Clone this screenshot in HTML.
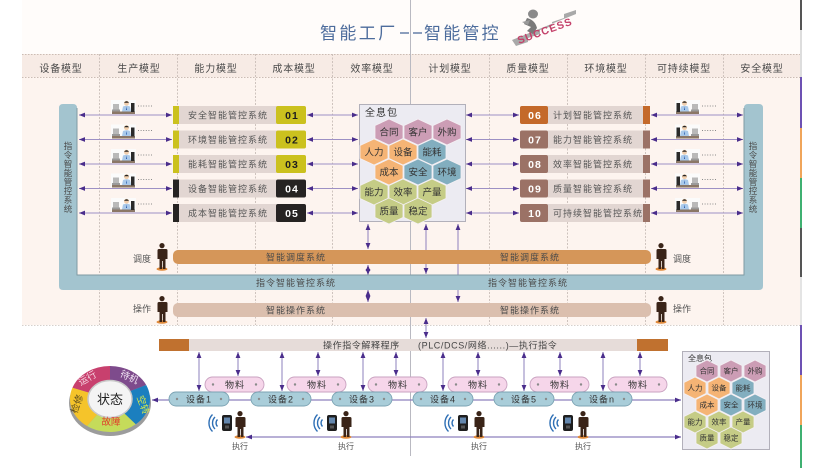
<!DOCTYPE html>
<html><head><meta charset="utf-8"><style>
html,body{margin:0;padding:0;background:#fff;}
svg{display:block;}
text{font-family:"Liberation Sans","Noto Sans CJK SC",sans-serif;}
</style></head><body>
<svg width="836" height="468" viewBox="0 0 836 468" xmlns="http://www.w3.org/2000/svg">
<defs>
 <marker id="ah" viewBox="0 0 10 8" refX="10" refY="4" markerWidth="6" markerHeight="5" orient="auto-start-reverse" markerUnits="userSpaceOnUse"><path d="M0,0L10,4L0,8z" fill="#4a2d8c"/></marker>
 <g id="wk">
  <rect x="0" y="0" width="25" height="14" fill="#fbfbfb"/>
  <rect x="1" y="11.5" width="23" height="2.5" fill="#8b7766"/>
  <rect x="2" y="4" width="6" height="6" fill="#b9b9b9"/>
  <rect x="1" y="9.5" width="8" height="2" fill="#9a9a9a"/>
  <rect x="20" y="3" width="3.5" height="9" fill="#2a2a2a"/>
  <circle cx="15.5" cy="3.2" r="2.5" fill="#f1cfae"/>
  <path d="M13,2.8 q2.5,-3.2 5,0 z" fill="#222"/>
  <path d="M11,11.5 L12,6.5 Q15.5,5 19,6.5 L20,11.5 Z" fill="#a9c9ea"/>
  <path d="M15.5,6.5 L15,10 L16,10 Z" fill="#2456a8"/>
 </g>
 <g id="man">
  <ellipse cx="6" cy="26" rx="5.5" ry="1.8" fill="#e08a3a"/>
  <circle cx="6" cy="2.6" r="2.6" fill="#3a2418"/>
  <path d="M2,6 h8 q1.5,0 1.5,1.5 v8.5 h-2 v10 h-2.6 v-8 h-0.8 v8 h-2.6 v-10 h-2 v-8.5 q0,-1.5 1.5,-1.5z" fill="#3a2418"/>
 </g>
 <g id="ph"><rect x="0" y="0" width="10" height="16" rx="2" fill="#1e1e1e"/><rect x="2" y="2.5" width="6" height="6" fill="#6487ad"/><rect x="3" y="10.5" width="4" height="3" fill="#555"/></g>
 <g id="wf" fill="none" stroke="#2e6fb5" stroke-width="1.4">
  <path d="M-3.5,-3.5 A5,5 0 0,0 -3.5,3.5"/>
  <path d="M-6,-6 A8.5,8.5 0 0,0 -6,6"/>
  <path d="M-8.5,-8.5 A12,12 0 0,0 -8.5,8.5"/>
 </g>
 <polygon id="hb" points="0,-13 14,-6.5 14,6.5 0,13 -14,6.5 -14,-6.5" stroke="#f4f0f4" stroke-width="0.8"/>
 <polygon id="hs" points="0,-11 11,-5.5 11,5.5 0,11 -11,5.5 -11,-5.5" stroke="#f4f0f4" stroke-width="0.8"/>
</defs>

<!-- backgrounds -->
<rect x="0" y="0" width="836" height="468" fill="#fff"/>
<rect x="22" y="0" width="778" height="54" fill="#fffcfa"/>
<rect x="22" y="54" width="778" height="23" fill="#f7ebe5"/>
<rect x="22" y="77" width="778" height="248" fill="#fdf4ef"/>
<line x1="22" y1="54.5" x2="800" y2="54.5" stroke="#cbbcb4" stroke-dasharray="1.5,1.5"/>
<line x1="22" y1="77.5" x2="800" y2="77.5" stroke="#cbbcb4" stroke-dasharray="1.5,1.5"/>
<line x1="22" y1="325.5" x2="800" y2="325.5" stroke="#d6d0cc" stroke-dasharray="1.5,1.5"/>
<g stroke="#c9beb8" stroke-dasharray="2,1.5" stroke-width="0.9">
 <line x1="99.5" y1="54" x2="99.5" y2="325"/>
 <line x1="177.5" y1="54" x2="177.5" y2="325"/>
 <line x1="255.5" y1="54" x2="255.5" y2="325"/>
 <line x1="332.5" y1="54" x2="332.5" y2="325"/>
 <line x1="489.5" y1="54" x2="489.5" y2="325"/>
 <line x1="567.5" y1="54" x2="567.5" y2="325"/>
 <line x1="645.5" y1="54" x2="645.5" y2="325"/>
 <line x1="723.5" y1="54" x2="723.5" y2="325"/>
</g>
<line x1="410.5" y1="0" x2="410.5" y2="456" stroke="#b9b9c1" stroke-width="1"/>
<!-- right color strip -->
<g stroke-width="2">
 <line x1="801" y1="0" x2="801" y2="30" stroke="#555"/>
 <line x1="801" y1="30" x2="801" y2="77" stroke="#ddd"/>
 <line x1="801" y1="77" x2="801" y2="128" stroke="#6d51b3"/>
 <line x1="801" y1="128" x2="801" y2="178" stroke="#f0a55a"/>
 <line x1="801" y1="178" x2="801" y2="228" stroke="#3fb071"/>
 <line x1="801" y1="228" x2="801" y2="277" stroke="#555"/>
 <line x1="801" y1="277" x2="801" y2="325" stroke="#e4e4e4"/>
 <line x1="801" y1="325" x2="801" y2="375" stroke="#6d51b3"/>
 <line x1="801" y1="375" x2="801" y2="425" stroke="#f0a55a"/>
 <line x1="801" y1="425" x2="801" y2="468" stroke="#3fb071"/>
</g>

<!-- title -->
<text x="320" y="39" font-size="17" fill="#4d6c9c" letter-spacing="2.4">智能工厂</text>
<line x1="400" y1="33" x2="409" y2="33" stroke="#4d6c9c" stroke-width="1.3"/>
<line x1="413" y1="33" x2="422" y2="33" stroke="#4d6c9c" stroke-width="1.3"/>
<text x="424" y="39" font-size="17" fill="#4d6c9c" letter-spacing="2.2">智能管控</text>
<!-- logo -->
<g>
 <path d="M516,46 l12,-4 0,-4 12,-4 0,-4 12,-4 0,-4 12,-4 0,-4 12,-4 0,4 -64,26z" fill="#a9a9a9"/>
 <ellipse cx="533" cy="14" rx="5" ry="4.5" fill="#8a8a8a"/>
 <path d="M527,18 q8,2 10,10 l-4,6 -6,-3 4,-4 -7,-3z" fill="#7a7a7a"/>
 <path d="M522,22 l8,-2 -2,5z" fill="#9a9a9a"/>
 <text x="519" y="44" transform="rotate(-20 519 44)" font-size="10.5" font-weight="bold" fill="#c4416a" letter-spacing="1">SUCCESS</text>
</g>

<!-- header labels -->
<g font-size="10" fill="#4a4a4a" text-anchor="middle" letter-spacing="0.8">
 <text x="61" y="72">设备模型</text>
 <text x="139" y="72">生产模型</text>
 <text x="216" y="72">能力模型</text>
 <text x="294" y="72">成本模型</text>
 <text x="372" y="72">效率模型</text>
 <text x="450" y="72">计划模型</text>
 <text x="528" y="72">质量模型</text>
 <text x="606" y="72">环境模型</text>
 <text x="684" y="72">可持续模型</text>
 <text x="762" y="72">安全模型</text>
</g>

<!-- vertical arrows behind bars -->
<g stroke="#8e80bd" stroke-width="1" marker-start="url(#ah)" marker-end="url(#ah)">
 <line x1="426" y1="224" x2="426" y2="274"/>
 <line x1="458" y1="224" x2="458" y2="302"/>
 <line x1="368" y1="224" x2="368" y2="249"/>
 <line x1="368" y1="265" x2="368" y2="275"/>
 <line x1="368" y1="290" x2="368" y2="302"/>
 <line x1="426" y1="318" x2="426" y2="338"/>
</g>

<!-- U bar -->
<path d="M63,104 L73,104 Q77,104 77,108 L77,275 L744,275 L744,108 Q744,104 748,104 L759,104 Q763,104 763,108 L763,286 Q763,290 759,290 L63,290 Q59,290 59,286 L59,108 Q59,104 63,104 Z" fill="#a3c4cf"/>
<polyline points="77,108 77,275 744,275 744,108" fill="none" stroke="#7f9aa3" stroke-width="1"/>
<g font-size="8.5" fill="#4a4a4a" text-anchor="middle">
 <text x="68" y="149">指</text><text x="68" y="158">令</text><text x="68" y="167">智</text><text x="68" y="176">能</text><text x="68" y="185">管</text><text x="68" y="194">控</text><text x="68" y="203">系</text><text x="68" y="212">统</text>
 <text x="753" y="149">指</text><text x="753" y="158">令</text><text x="753" y="167">智</text><text x="753" y="176">能</text><text x="753" y="185">管</text><text x="753" y="194">控</text><text x="753" y="203">系</text><text x="753" y="212">统</text>
</g>
<g font-size="9" fill="#4a4a4a" text-anchor="middle" letter-spacing="1">
 <text x="296" y="286">指令智能管控系统</text>
 <text x="528" y="286">指令智能管控系统</text>
</g>

<!-- row arrows -->
<g stroke="#9d90c4" stroke-width="1" marker-start="url(#ah)" marker-end="url(#ah)">
 <line x1="79" y1="115" x2="172" y2="115"/><line x1="307" y1="115" x2="358" y2="115"/><line x1="466" y1="115" x2="519" y2="115"/><line x1="651" y1="115" x2="743" y2="115"/>
 <line x1="79" y1="139.5" x2="172" y2="139.5"/><line x1="307" y1="139.5" x2="358" y2="139.5"/><line x1="466" y1="139.5" x2="519" y2="139.5"/><line x1="651" y1="139.5" x2="743" y2="139.5"/>
 <line x1="79" y1="164" x2="172" y2="164"/><line x1="307" y1="164" x2="358" y2="164"/><line x1="466" y1="164" x2="519" y2="164"/><line x1="651" y1="164" x2="743" y2="164"/>
 <line x1="79" y1="188.5" x2="172" y2="188.5"/><line x1="307" y1="188.5" x2="358" y2="188.5"/><line x1="466" y1="188.5" x2="519" y2="188.5"/><line x1="651" y1="188.5" x2="743" y2="188.5"/>
 <line x1="79" y1="213" x2="172" y2="213"/><line x1="307" y1="213" x2="358" y2="213"/><line x1="466" y1="213" x2="519" y2="213"/><line x1="651" y1="213" x2="743" y2="213"/>
</g>

<!-- worker icons -->
<use href="#wk" x="111" y="100"/><use href="#wk" x="111" y="124.5"/><use href="#wk" x="111" y="149"/><use href="#wk" x="111" y="173.5"/><use href="#wk" x="111" y="198"/>
<g transform="translate(700,0) scale(-1,1)">
 <use href="#wk" x="0" y="100"/><use href="#wk" x="0" y="124.5"/><use href="#wk" x="0" y="149"/><use href="#wk" x="0" y="173.5"/><use href="#wk" x="0" y="198"/>
</g>
<g stroke="#8a8a8a" stroke-dasharray="1,1.6" stroke-width="1">
 <line x1="138" y1="106" x2="153" y2="106"/><line x1="138" y1="130.5" x2="153" y2="130.5"/><line x1="138" y1="155" x2="153" y2="155"/><line x1="138" y1="179.5" x2="153" y2="179.5"/><line x1="138" y1="204" x2="153" y2="204"/>
 <line x1="702" y1="106" x2="717" y2="106"/><line x1="702" y1="130.5" x2="717" y2="130.5"/><line x1="702" y1="155" x2="717" y2="155"/><line x1="702" y1="179.5" x2="717" y2="179.5"/><line x1="702" y1="204" x2="717" y2="204"/>
</g>

<!-- left system boxes -->
<g>
 <rect x="173" y="106" width="133" height="18" rx="2" fill="#e2d6d2"/><rect x="173" y="106" width="6" height="18" fill="#cbc11e"/><rect x="276" y="106" width="30" height="18" rx="2" fill="#cbc11e"/>
 <rect x="173" y="130.5" width="133" height="18" rx="2" fill="#e2d6d2"/><rect x="173" y="130.5" width="6" height="18" fill="#cbc11e"/><rect x="276" y="130.5" width="30" height="18" rx="2" fill="#cbc11e"/>
 <rect x="173" y="155" width="133" height="18" rx="2" fill="#e2d6d2"/><rect x="173" y="155" width="6" height="18" fill="#cbc11e"/><rect x="276" y="155" width="30" height="18" rx="2" fill="#cbc11e"/>
 <rect x="173" y="179.5" width="133" height="18" rx="2" fill="#e2d6d2"/><rect x="173" y="179.5" width="6" height="18" fill="#262322"/><rect x="276" y="179.5" width="30" height="18" rx="2" fill="#262322"/>
 <rect x="173" y="204" width="133" height="18" rx="2" fill="#e2d6d2"/><rect x="173" y="204" width="6" height="18" fill="#262322"/><rect x="276" y="204" width="30" height="18" rx="2" fill="#262322"/>
</g>
<g font-size="9" fill="#555" text-anchor="middle" letter-spacing="1">
 <text x="228" y="118.5">安全智能管控系统</text>
 <text x="228" y="143">环境智能管控系统</text>
 <text x="228" y="167.5">能耗智能管控系统</text>
 <text x="228" y="192">设备智能管控系统</text>
 <text x="228" y="216.5">成本智能管控系统</text>
</g>
<g font-size="10.5" font-weight="bold" text-anchor="middle" letter-spacing="1">
 <text x="292" y="119" fill="#1e1e1e">01</text>
 <text x="292" y="143.5" fill="#1e1e1e">02</text>
 <text x="292" y="168" fill="#1e1e1e">03</text>
 <text x="292" y="192.5" fill="#fff">04</text>
 <text x="292" y="217" fill="#fff">05</text>
</g>

<!-- right system boxes -->
<g>
 <rect x="520" y="106" width="130" height="18" rx="2" fill="#e2d6d2"/><rect x="520" y="106" width="28" height="18" rx="2" fill="#c4692a"/><rect x="643" y="106" width="7" height="18" fill="#c4692a"/>
 <rect x="520" y="130.5" width="130" height="18" rx="2" fill="#e2d6d2"/><rect x="520" y="130.5" width="28" height="18" rx="2" fill="#9b7266"/><rect x="643" y="130.5" width="7" height="18" fill="#9b7266"/>
 <rect x="520" y="155" width="130" height="18" rx="2" fill="#e2d6d2"/><rect x="520" y="155" width="28" height="18" rx="2" fill="#9b7266"/><rect x="643" y="155" width="7" height="18" fill="#9b7266"/>
 <rect x="520" y="179.5" width="130" height="18" rx="2" fill="#e2d6d2"/><rect x="520" y="179.5" width="28" height="18" rx="2" fill="#9b7266"/><rect x="643" y="179.5" width="7" height="18" fill="#9b7266"/>
 <rect x="520" y="204" width="130" height="18" rx="2" fill="#e2d6d2"/><rect x="520" y="204" width="28" height="18" rx="2" fill="#9b7266"/><rect x="643" y="204" width="7" height="18" fill="#9b7266"/>
</g>
<g font-size="10.5" font-weight="bold" fill="#fff" text-anchor="middle" letter-spacing="1">
 <text x="535" y="119">06</text><text x="535" y="143.5">07</text><text x="535" y="168">08</text><text x="535" y="192.5">09</text><text x="535" y="217">10</text>
</g>
<g font-size="9" fill="#555" letter-spacing="1">
 <text x="553" y="118.5">计划智能管控系统</text>
 <text x="553" y="143">能力智能管控系统</text>
 <text x="553" y="167.5">效率智能管控系统</text>
 <text x="553" y="192">质量智能管控系统</text>
 <text x="553" y="216.5">可持续智能管控系统</text>
</g>

<!-- 全息包 big -->
<rect x="359.5" y="104.5" width="106" height="117" fill="#ecebf2" stroke="#b2b0ba"/>
<text x="365" y="116" font-size="10" fill="#333" letter-spacing="1">全息包</text>
<g>
 <use href="#hb" x="389" y="132" fill="#cc9db5"/><use href="#hb" x="418" y="132" fill="#cc9db5"/><use href="#hb" x="447" y="132" fill="#cc9db5"/>
 <use href="#hb" x="374" y="152" fill="#f5b475"/><use href="#hb" x="403" y="152" fill="#f5b475"/><use href="#hb" x="432" y="152" fill="#82aebf"/>
 <use href="#hb" x="389" y="172" fill="#f5b475"/><use href="#hb" x="418" y="172" fill="#82aebf"/><use href="#hb" x="447" y="172" fill="#82aebf"/>
 <use href="#hb" x="374" y="192" fill="#c5cc86"/><use href="#hb" x="403" y="192" fill="#c5cc86"/><use href="#hb" x="432" y="192" fill="#c5cc86"/>
 <use href="#hb" x="389" y="211" fill="#c5cc86"/><use href="#hb" x="418" y="211" fill="#c5cc86"/>
</g>
<g font-size="9.5" fill="#333" text-anchor="middle">
 <text x="389" y="135.5">合同</text><text x="418" y="135.5">客户</text><text x="447" y="135.5">外购</text>
 <text x="374" y="155.5">人力</text><text x="403" y="155.5">设备</text><text x="432" y="155.5">能耗</text>
 <text x="389" y="175.5">成本</text><text x="418" y="175.5">安全</text><text x="447" y="175.5">环境</text>
 <text x="374" y="195.5">能力</text><text x="403" y="195.5">效率</text><text x="432" y="195.5">产量</text>
 <text x="389" y="214.5">质量</text><text x="418" y="214.5">稳定</text>
</g>

<!-- dispatch / operation bars -->
<rect x="173" y="250" width="478" height="14" rx="5" fill="#d59659"/>
<rect x="173" y="303" width="478" height="14" rx="5" fill="#dbbfae"/>
<g font-size="9" fill="#4a4a4a" text-anchor="middle" letter-spacing="1">
 <text x="296" y="260.5">智能调度系统</text><text x="530" y="260.5">智能调度系统</text>
 <text x="296" y="313.5">智能操作系统</text><text x="530" y="313.5">智能操作系统</text>
</g>
<use href="#man" x="156" y="243"/><use href="#man" x="156" y="296"/>
<use href="#man" x="655" y="243"/><use href="#man" x="655" y="296"/>
<g font-size="9" fill="#555">
 <text x="133" y="262">调度</text><text x="133" y="312">操作</text>
 <text x="673" y="262">调度</text><text x="673" y="312">操作</text>
</g>

<!-- bottom: op instruction bar -->
<rect x="159" y="339" width="509" height="12" fill="#e6dcd9"/>
<rect x="159" y="339" width="30" height="12" fill="#c0712f"/>
<rect x="637" y="339" width="31" height="12" fill="#c0712f"/>
<g font-size="9" fill="#444" letter-spacing="0.6">
 <text x="323" y="348.5">操作指令解释程序</text>
 <text x="418" y="348.5">(PLC/DCS/网络......)—执行指令</text>
</g>

<!-- bottom arrows -->
<g stroke="#8e80bd" stroke-width="1" marker-start="url(#ah)" marker-end="url(#ah)">
 <line x1="199" y1="352" x2="199" y2="391"/><line x1="282" y1="352" x2="282" y2="391"/><line x1="363" y1="352" x2="363" y2="391"/><line x1="443" y1="352" x2="443" y2="391"/><line x1="524" y1="352" x2="524" y2="391"/><line x1="603" y1="352" x2="603" y2="391"/>
 <line x1="238" y1="352" x2="238" y2="376"/><line x1="318" y1="352" x2="318" y2="376"/><line x1="396" y1="352" x2="396" y2="376"/><line x1="478" y1="352" x2="478" y2="376"/><line x1="560" y1="352" x2="560" y2="376"/><line x1="640" y1="352" x2="640" y2="376"/>
</g>
<g stroke="#8e80bd" stroke-width="1.2" marker-start="url(#ah)" marker-end="url(#ah)">
 <line x1="152" y1="400" x2="681" y2="400"/>
 <line x1="246" y1="437" x2="681" y2="437"/>
</g>

<!-- 物料 pills -->
<g fill="#f6d6ea" stroke="#c9a2c0" stroke-width="0.9">
 <rect x="205" y="377" width="59" height="15" rx="7.5"/><rect x="287" y="377" width="59" height="15" rx="7.5"/><rect x="368" y="377" width="59" height="15" rx="7.5"/>
 <rect x="448" y="377" width="59" height="15" rx="7.5"/><rect x="530" y="377" width="59" height="15" rx="7.5"/><rect x="608" y="377" width="59" height="15" rx="7.5"/>
</g>
<g fill="#a9cdd9" stroke="#7ba3b3" stroke-width="0.9">
 <rect x="169" y="392" width="60" height="14" rx="7"/><rect x="251" y="392" width="60" height="14" rx="7"/><rect x="332" y="392" width="60" height="14" rx="7"/>
 <rect x="413" y="392" width="60" height="14" rx="7"/><rect x="494" y="392" width="60" height="14" rx="7"/><rect x="572" y="392" width="60" height="14" rx="7"/>
</g>
<g fill="#8a8a8a">
 <circle cx="213" cy="384.5" r="1.2"/><circle cx="256" cy="384.5" r="1.2"/><circle cx="295" cy="384.5" r="1.2"/><circle cx="338" cy="384.5" r="1.2"/><circle cx="376" cy="384.5" r="1.2"/><circle cx="419" cy="384.5" r="1.2"/>
 <circle cx="456" cy="384.5" r="1.2"/><circle cx="499" cy="384.5" r="1.2"/><circle cx="538" cy="384.5" r="1.2"/><circle cx="581" cy="384.5" r="1.2"/><circle cx="616" cy="384.5" r="1.2"/><circle cx="659" cy="384.5" r="1.2"/>
 <circle cx="177" cy="399" r="1.2"/><circle cx="221" cy="399" r="1.2"/><circle cx="259" cy="399" r="1.2"/><circle cx="303" cy="399" r="1.2"/><circle cx="340" cy="399" r="1.2"/><circle cx="384" cy="399" r="1.2"/>
 <circle cx="421" cy="399" r="1.2"/><circle cx="465" cy="399" r="1.2"/><circle cx="502" cy="399" r="1.2"/><circle cx="546" cy="399" r="1.2"/><circle cx="580" cy="399" r="1.2"/><circle cx="624" cy="399" r="1.2"/>
</g>
<g font-size="9" fill="#333" text-anchor="middle" letter-spacing="1">
 <text x="235" y="388">物料</text><text x="317" y="388">物料</text><text x="398" y="388">物料</text><text x="478" y="388">物料</text><text x="560" y="388">物料</text><text x="638" y="388">物料</text>
 <text x="199" y="402.5">设备1</text><text x="281" y="402.5">设备2</text><text x="362" y="402.5">设备3</text><text x="443" y="402.5">设备4</text><text x="524" y="402.5">设备5</text><text x="602" y="402.5">设备n</text>
</g>

<!-- executors -->
<use href="#wf" x="221" y="423"/><use href="#ph" x="222" y="415"/><use href="#man" x="234" y="411"/>
<use href="#wf" x="326" y="423"/><use href="#ph" x="327" y="415"/><use href="#man" x="340" y="411"/>
<use href="#wf" x="457" y="423"/><use href="#ph" x="458" y="415"/><use href="#man" x="473" y="411"/>
<use href="#wf" x="562" y="423"/><use href="#ph" x="563" y="415"/><use href="#man" x="577" y="411"/>
<g font-size="8" fill="#555" text-anchor="middle">
 <text x="240" y="449">执行</text><text x="346" y="449">执行</text><text x="479" y="449">执行</text><text x="583" y="449">执行</text>
</g>

<!-- status donut -->
<ellipse cx="110" cy="403" rx="41" ry="33" fill="#4a4a4a" opacity="0.55"/>
<path d="M72.4,387.7 A40,33 0 0,1 110,366 L110,380.5 A22,18.5 0 0,0 89.3,392.7 Z" fill="#c8406e"/>
<path d="M110,366 A40,33 0 0,1 146.2,385 L129.9,391.2 A22,18.5 0 0,0 110,380.5 Z" fill="#7e4b8c"/>
<path d="M146.2,385 A40,33 0 0,1 135.7,424.3 L124.1,413.2 A22,18.5 0 0,0 129.9,391.2 Z" fill="#1b7fbf"/>
<path d="M135.7,424.3 A40,33 0 0,1 87,426 L97.4,414.2 A22,18.5 0 0,0 124.1,413.2 Z" fill="#c5db5a"/>
<path d="M87,426 A40,33 0 0,1 72.4,387.7 L89.3,392.7 A22,18.5 0 0,0 97.4,414.2 Z" fill="#f5c42a"/>
<ellipse cx="110" cy="399" rx="22" ry="18.5" fill="#f4f4f4" stroke="#c8c8c8" stroke-width="1.5"/>
<text x="110" y="404" font-size="13" fill="#222" text-anchor="middle">状态</text>
<g font-size="9.5" text-anchor="middle">
 <text x="89" y="381" fill="#f6d8e4" transform="rotate(-30 89 381)">运行</text>
 <text x="128" y="380" fill="#f2e6f4" transform="rotate(25 128 380)">待机</text>
 <text x="140" y="406" fill="#d4e84a" transform="rotate(70 140 406)">空转</text>
 <text x="111" y="425" fill="#e03a2a">故障</text>
 <text x="80" y="405" fill="#5a4a20" transform="rotate(-70 80 405)">检修</text>
</g>

<!-- 全息包 small -->
<rect x="682.5" y="351.5" width="87" height="98" fill="#ecebf2" stroke="#b2b0ba"/>
<text x="688" y="361" font-size="8" fill="#333">全息包</text>
<g>
 <use href="#hs" x="707" y="371" fill="#cc9db5"/><use href="#hs" x="731" y="371" fill="#cc9db5"/><use href="#hs" x="755" y="371" fill="#cc9db5"/>
 <use href="#hs" x="695" y="388" fill="#f5b475"/><use href="#hs" x="719" y="388" fill="#f5b475"/><use href="#hs" x="743" y="388" fill="#82aebf"/>
 <use href="#hs" x="707" y="405" fill="#f5b475"/><use href="#hs" x="731" y="405" fill="#82aebf"/><use href="#hs" x="755" y="405" fill="#82aebf"/>
 <use href="#hs" x="695" y="422" fill="#c5cc86"/><use href="#hs" x="719" y="422" fill="#c5cc86"/><use href="#hs" x="743" y="422" fill="#c5cc86"/>
 <use href="#hs" x="707" y="438" fill="#c5cc86"/><use href="#hs" x="731" y="438" fill="#c5cc86"/>
</g>
<g font-size="7.5" fill="#333" text-anchor="middle">
 <text x="707" y="373.7">合同</text><text x="731" y="373.7">客户</text><text x="755" y="373.7">外购</text>
 <text x="695" y="390.7">人力</text><text x="719" y="390.7">设备</text><text x="743" y="390.7">能耗</text>
 <text x="707" y="407.7">成本</text><text x="731" y="407.7">安全</text><text x="755" y="407.7">环境</text>
 <text x="695" y="424.7">能力</text><text x="719" y="424.7">效率</text><text x="743" y="424.7">产量</text>
 <text x="707" y="440.7">质量</text><text x="731" y="440.7">稳定</text>
</g>
</svg>
</body></html>
